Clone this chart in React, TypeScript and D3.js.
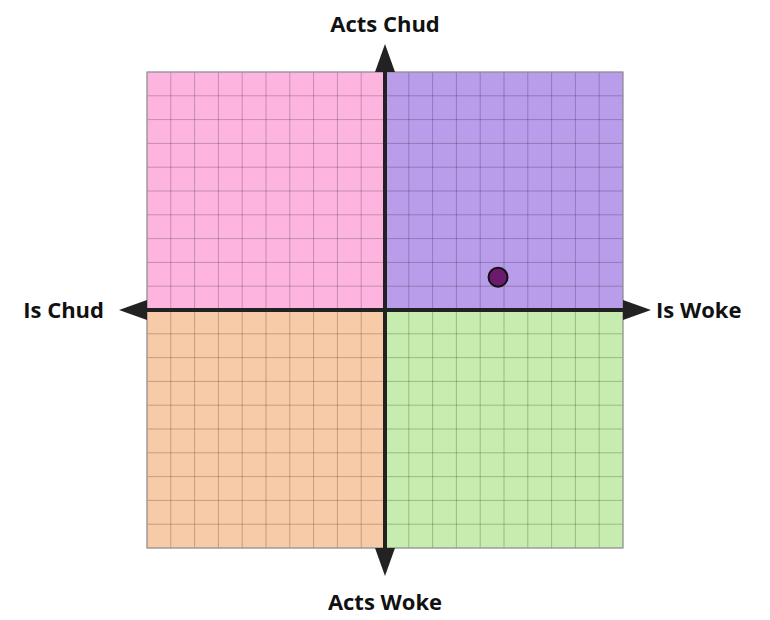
import React, { useEffect, useRef } from 'react';
import * as d3 from 'd3';

// quadrant fills: top-left, top-right, bottom-left, bottom-right
const quadrants = [
  { qx: -1, qy: 1, color: '#fdb5e0' },
  { qx: 1, qy: 1, color: '#b99deb' },
  { qx: -1, qy: -1, color: '#f8cba8' },
  { qx: 1, qy: -1, color: '#c6ecb0' },
];

const axisLabels = [
  { text: 'Acts Chud', pos: 'top' },
  { text: 'Acts Woke', pos: 'bottom' },
  { text: 'Is Chud', pos: 'left' },
  { text: 'Is Woke', pos: 'right' },
];

const points = [{ x: 4.75, y: 1.38 }];

const W = 770;
const H = 620;

const Compass: React.FC = () => {
  const svgRef = useRef<SVGSVGElement>(null);

  useEffect(() => {
    if (!svgRef.current) return;
    const svg = d3.select(svgRef.current);
    svg.selectAll('*').remove();

    const x = d3.scaleLinear().domain([-10, 10]).range([147, 623]);
    const y = d3.scaleLinear().domain([-10, 10]).range([548, 72]);
    const cx = x(0);
    const cy = y(0);

    // quadrants
    svg.append('g')
      .selectAll('rect')
      .data(quadrants)
      .enter()
      .append('rect')
      .attr('x', d => (d.qx < 0 ? x(-10) : cx))
      .attr('y', d => (d.qy > 0 ? y(10) : cy))
      .attr('width', x(10) - cx)
      .attr('height', cy - y(10))
      .attr('fill', d => d.color);

    // grid
    const ticks = d3.range(-10, 11);
    const grid = svg.append('g')
      .attr('stroke', '#000')
      .attr('stroke-opacity', 0.22)
      .attr('stroke-width', 1);
    grid.selectAll('.vx')
      .data(ticks)
      .enter()
      .append('line')
      .attr('x1', d => x(d))
      .attr('x2', d => x(d))
      .attr('y1', y(10))
      .attr('y2', y(-10));
    grid.selectAll('.hy')
      .data(ticks)
      .enter()
      .append('line')
      .attr('y1', d => y(d))
      .attr('y2', d => y(d))
      .attr('x1', x(-10))
      .attr('x2', x(10));

    svg.append('rect')
      .attr('x', x(-10))
      .attr('y', y(10))
      .attr('width', x(10) - x(-10))
      .attr('height', y(-10) - y(10))
      .attr('fill', 'none')
      .attr('stroke', '#999')
      .attr('stroke-width', 1.2);

    // axes
    const axisColor = '#222';
    svg.append('line')
      .attr('x1', x(-10)).attr('x2', x(10))
      .attr('y1', cy).attr('y2', cy)
      .attr('stroke', axisColor).attr('stroke-width', 4);
    svg.append('line')
      .attr('x1', cx).attr('x2', cx)
      .attr('y1', y(10)).attr('y2', y(-10))
      .attr('stroke', axisColor).attr('stroke-width', 4);

    const len = 28;
    const half = 10;
    const arrows = [
      [[cx, y(10) - len], [cx - half, y(10)], [cx + half, y(10)]],
      [[cx, y(-10) + len], [cx - half, y(-10)], [cx + half, y(-10)]],
      [[x(-10) - len, cy], [x(-10), cy - half], [x(-10), cy + half]],
      [[x(10) + len, cy], [x(10), cy - half], [x(10), cy + half]],
    ];
    svg.append('g')
      .selectAll('path')
      .data(arrows)
      .enter()
      .append('path')
      .attr('d', d => 'M' + d.map(p => p.join(',')).join('L') + 'Z')
      .attr('fill', axisColor);

    // labels
    const label = svg.append('g')
      .attr('font-family', '"Open Sans", "Noto Sans", sans-serif')
      .attr('font-weight', 700)
      .attr('font-size', 22)
      .attr('fill', '#111');
    label.selectAll('text')
      .data(axisLabels)
      .enter()
      .append('text')
      .attr('x', d => (d.pos === 'left' ? 104 : d.pos === 'right' ? 656 : cx))
      .attr('y', d => (d.pos === 'top' ? 32 : d.pos === 'bottom' ? 610 : cy + 8))
      .attr('text-anchor', d => (d.pos === 'left' ? 'end' : d.pos === 'right' ? 'start' : 'middle'))
      .text(d => d.text);

    // points
    svg.append('g')
      .selectAll('circle')
      .data(points)
      .enter()
      .append('circle')
      .attr('cx', d => x(d.x))
      .attr('cy', d => y(d.y))
      .attr('r', 9.5)
      .attr('fill', '#6b1a6d')
      .attr('stroke', '#111')
      .attr('stroke-width', 2);
  }, []);

  return <svg ref={svgRef} width={W} height={H} style={{ position: 'absolute', left: 0, top: 0 }} />;
};

export default function App() {
  return <Compass />;
}
